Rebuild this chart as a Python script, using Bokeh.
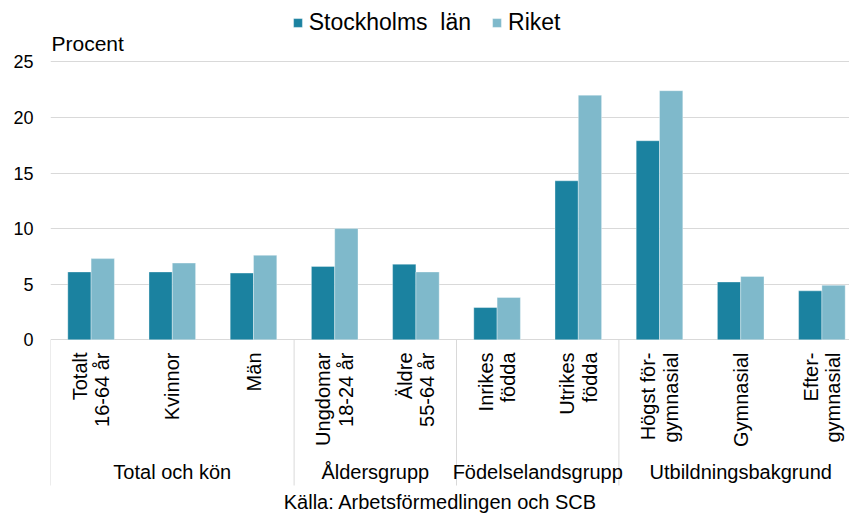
import numpy as np
from bokeh.plotting import figure
from bokeh.models import ColumnDataSource, Range1d, FixedTicker, Legend, LegendItem
from bokeh.core.properties import value
from bokeh.transform import dodge
from bokeh.embed import file_html
from bokeh.resources import INLINE

# ---------------- data ----------------
category_lines = [
    ["Totalt", "16-64 år"],
    ["Kvinnor"],
    ["Män"],
    ["Ungdomar", "18-24 år"],
    ["Äldre", "55-64 år"],
    ["Inrikes", "födda"],
    ["Utrikes", "födda"],
    ["Högst för-", "gymnasial"],
    ["Gymnasial"],
    ["Efter-", "gymnasial"],
]
group_names = ["Total och kön", "Åldersgrupp", "Födelselandsgrupp", "Utbildningsbakgrund"]
group_sizes = [3, 2, 2, 3]
series_names = ["Stockholms  län", "Riket"]
stockholm = [6.1, 6.1, 6.0, 6.6, 6.8, 2.9, 14.3, 17.9, 5.2, 4.4]
riket = [7.3, 6.9, 7.6, 10.0, 6.1, 3.8, 22.0, 22.4, 5.7, 4.9]
y_ticks = [0, 5, 10, 15, 20, 25]
y_axis_title = "Procent"
source_note = "Källa: Arbetsförmedlingen och SCB"

# ---------------- layout / style ----------------
FONT = "Liberation Sans"
DARK = "#1B82A0"
LIGHT = "#7FB9CB"
GRID = "#D9D9D9"
W, H = 849, 513
LEFT = 50
CAT_PX = 81.2
UNIT_PX = 11.12
ZERO_PAGE = 339.3
BAR_W = 0.287


def ydata(page_y):
    return (ZERO_PAGE - page_y) / UNIT_PX


def xdata(page_x):
    return (page_x - LEFT) / CAT_PX


n = len(category_lines)
frame_w = W - LEFT
x_range = Range1d(0, frame_w / CAT_PX)
y_range = Range1d(ydata(H), ydata(0))

p = figure(width=W, height=H, x_range=x_range, y_range=y_range,
           output_backend="svg", toolbar_location=None, x_axis_location=None,
           min_border_left=LEFT, min_border_right=0, min_border_top=0,
           min_border_bottom=0, outline_line_color=None,
           background_fill_color="white", border_fill_color="white")

centers = np.arange(n) + 0.5
bar_src = ColumnDataSource(dict(x=centers, s=stockholm, r=riket))
r1 = p.vbar(x=dodge("x", -BAR_W / 2), top="s", bottom=0, width=BAR_W, source=bar_src,
            fill_color=DARK, line_color="white", line_alpha=0.35, line_width=1)
r2 = p.vbar(x=dodge("x", BAR_W / 2), top="r", bottom=0, width=BAR_W, source=bar_src,
            fill_color=LIGHT, line_color="white", line_alpha=0.35, line_width=1)

# y axis
yax = p.yaxis[0]
yax.ticker = FixedTicker(ticks=y_ticks)
yax.axis_line_color = None
yax.major_tick_line_color = None
yax.minor_tick_line_color = None
yax.major_tick_out = 0
yax.major_tick_in = 0
yax.minor_tick_out = 0
yax.minor_tick_in = 0
yax.major_label_standoff = 17
yax.major_label_text_font = FONT
yax.major_label_text_font_size = "18px"
yax.major_label_text_color = "black"

p.xgrid.visible = False
p.ygrid.ticker = FixedTicker(ticks=y_ticks)
p.ygrid.grid_line_color = GRID
p.ygrid.grid_line_width = 1

# group separators
bounds = np.concatenate([[0], np.cumsum(group_sizes)])
p.segment(x0=bounds, y0=0, x1=bounds, y1=ydata(485), line_color=GRID, line_width=1)

# category labels (rotated, multi-line)
lx, ly, lt, lo = [], [], [], []
LINE_PX = 22.5
for i, lines in enumerate(category_lines):
    k = len(lines)
    for j, t in enumerate(lines):
        lx.append(i + 0.5)
        ly.append(ydata(352))
        lt.append(t)
        lo.append((j - (k - 1) / 2) * LINE_PX)
p.text(x="x", y="y", text="t", x_offset="o",
       source=ColumnDataSource(dict(x=lx, y=ly, t=lt, o=lo)),
       angle=np.pi / 2, text_align="right", text_baseline="middle",
       text_font=value(FONT), text_font_size="20px", text_color="black")

# group labels
gx = [(bounds[g] + bounds[g + 1]) / 2 for g in range(len(group_names))]
p.text(x=gx, y=[ydata(471.5)] * len(gx), text=group_names,
       text_align="center", text_baseline="middle",
       text_font=value(FONT), text_font_size="20px", text_color="black")

# axis title and source note
p.text(x=[xdata(51)], y=[ydata(43)], text=[y_axis_title],
       text_align="left", text_baseline="middle",
       text_font=value(FONT), text_font_size="21px", text_color="black")
p.text(x=[xdata(440)], y=[ydata(501)], text=[source_note],
       text_align="center", text_baseline="middle",
       text_font=value(FONT), text_font_size="20px", text_color="black")

legend = Legend(items=[LegendItem(label=series_names[0], renderers=[r1]),
                       LegendItem(label=series_names[1], renderers=[r2])],
                orientation="horizontal", location=(291.7 - LEFT, H - 36),
                glyph_width=11, glyph_height=11, label_standoff=6, spacing=20,
                padding=0, margin=0, border_line_color=None,
                background_fill_alpha=0, label_text_font=FONT,
                label_text_font_size="23px", label_height=26,
                label_text_color="black")
p.add_layout(legend, "center")

open("out.html", "w").write(file_html(p, INLINE))
